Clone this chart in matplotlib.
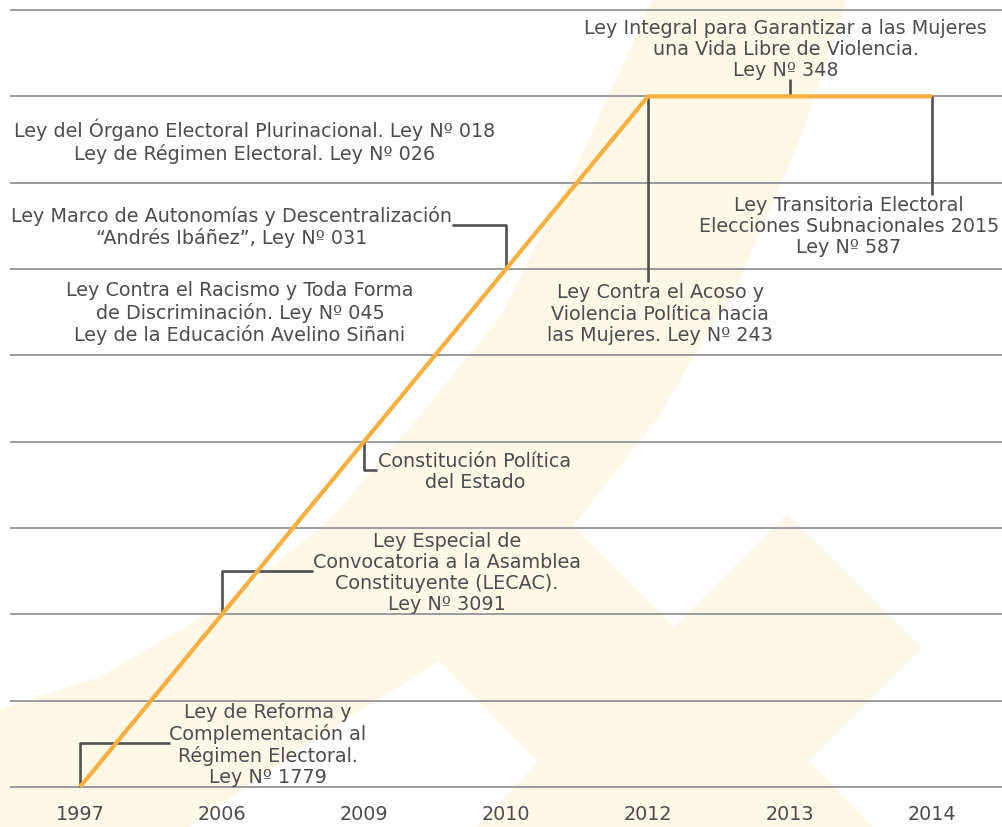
import matplotlib
matplotlib.use("Agg")
import matplotlib.pyplot as plt
from matplotlib.patches import Polygon

# timeline data: year categories and the "step" level reached by the orange line
years = ["1997", "2006", "2009", "2010", "2012", "2013", "2014"]
levels = [0, 2, 4, 6, 8, 8, 8]
n_grid = 9

# law labels
laws = [
    "Ley de Reforma y\nComplementación al\nRégimen Electoral.\nLey Nº 1779",
    "Ley Especial de\nConvocatoria a la Asamblea\nConstituyente (LECAC).\nLey Nº 3091",
    "Constitución Política\ndel Estado",
    "Ley Marco de Autonomías y Descentralización\n“Andrés Ibáñez”, Ley Nº 031",
    "Ley del Órgano Electoral Plurinacional. Ley Nº 018\nLey de Régimen Electoral. Ley Nº 026",
    "Ley Contra el Racismo y Toda Forma\nde Discriminación. Ley Nº 045\nLey de la Educación Avelino Siñani",
    "Ley Contra el Acoso y\nViolencia Política hacia\nlas Mujeres. Ley Nº 243",
    "Ley Integral para Garantizar a las Mujeres\nuna Vida Libre de Violencia.\nLey Nº 348",
    "Ley Transitoria Electoral\nElecciones Subnacionales 2015\nLey Nº 587",
]
law_year = [0, 1, 2, 3, None, None, 4, 5, 6]

# layout: label centre (x, y) and connector (turn height, end x)
label_pos = [(1.324, 0.50), (2.585, 2.49), (2.78, 3.66), (1.07, 6.50), (1.232, 7.49),
             (1.127, 5.50), (4.085, 5.49), (4.97, 8.55), (5.415, 6.50)]
connector = [(0.51, 0.634), (2.50, 1.641), (3.67, 2.092), (6.51, 2.62), None,
             None, (5.85, None), (8.20, None), (6.86, None)]

TXT = "#4d4d4d"
ORANGE = "#f9af3e"
W, H = 1003, 828
FS = 13.8

fig = plt.figure(figsize=(W / 100, H / 100), dpi=100)
plt.rcParams["font.family"] = ["DejaVu Sans"]

# pale background logo (decoration, pixel outline)
logo_px = [(0, 828), (0, 710), (100, 678), (233, 600), (330, 520), (417, 420), (500, 318),
           (580, 160), (653, 0), (847, 0), (800, 140), (740, 280), (657, 420), (573, 527),
           (674, 628), (787, 515), (922, 649), (809, 762), (873, 828), (477, 828),
           (538, 763), (439, 662), (300, 750), (190, 828)]
logo = Polygon([(x / W, 1 - y / H) for x, y in logo_px], closed=True,
               transform=fig.transFigure, facecolor="#fff8e6", edgecolor="none", zorder=-1)
fig.add_artist(logo)

ax = fig.add_axes([11 / W, (H - 788) / H, 992 / W, 777 / H])
ax.patch.set_visible(False)
ax.set_xlim((11 - 80) / 142, (1003 - 80) / 142)
ax.set_ylim(0, n_grid)

for k in range(n_grid + 1):
    ax.axhline(k, color="#9c9c9c", lw=1.4, zorder=1, clip_on=False)

x = list(range(len(years)))

for text, yi, pos, con in zip(laws, law_year, label_pos, connector):
    if con is not None:
        px, py = x[yi], levels[yi]
        turn, end = con
        xs = [px, px] if end is None else [px, px, end]
        ys = [py, turn] if end is None else [py, turn, turn]
        ax.plot(xs, ys, color="#505050", lw=1.9, zorder=2, solid_capstyle="butt",
                clip_on=False)
    ax.text(pos[0], pos[1], text, ha="center", va="center", multialignment="center",
            fontsize=FS, color=TXT, linespacing=1.14, zorder=3)

ax.plot(x, levels, color=ORANGE, lw=3, zorder=4, solid_capstyle="butt", clip_on=False)

ax.set_xticks(x)
ax.set_xticklabels(years, fontsize=FS, color=TXT)
ax.set_yticks([])
ax.tick_params(axis="x", length=0, pad=12)
for s in ax.spines.values():
    s.set_visible(False)

fig.savefig("out.png", dpi=100)
